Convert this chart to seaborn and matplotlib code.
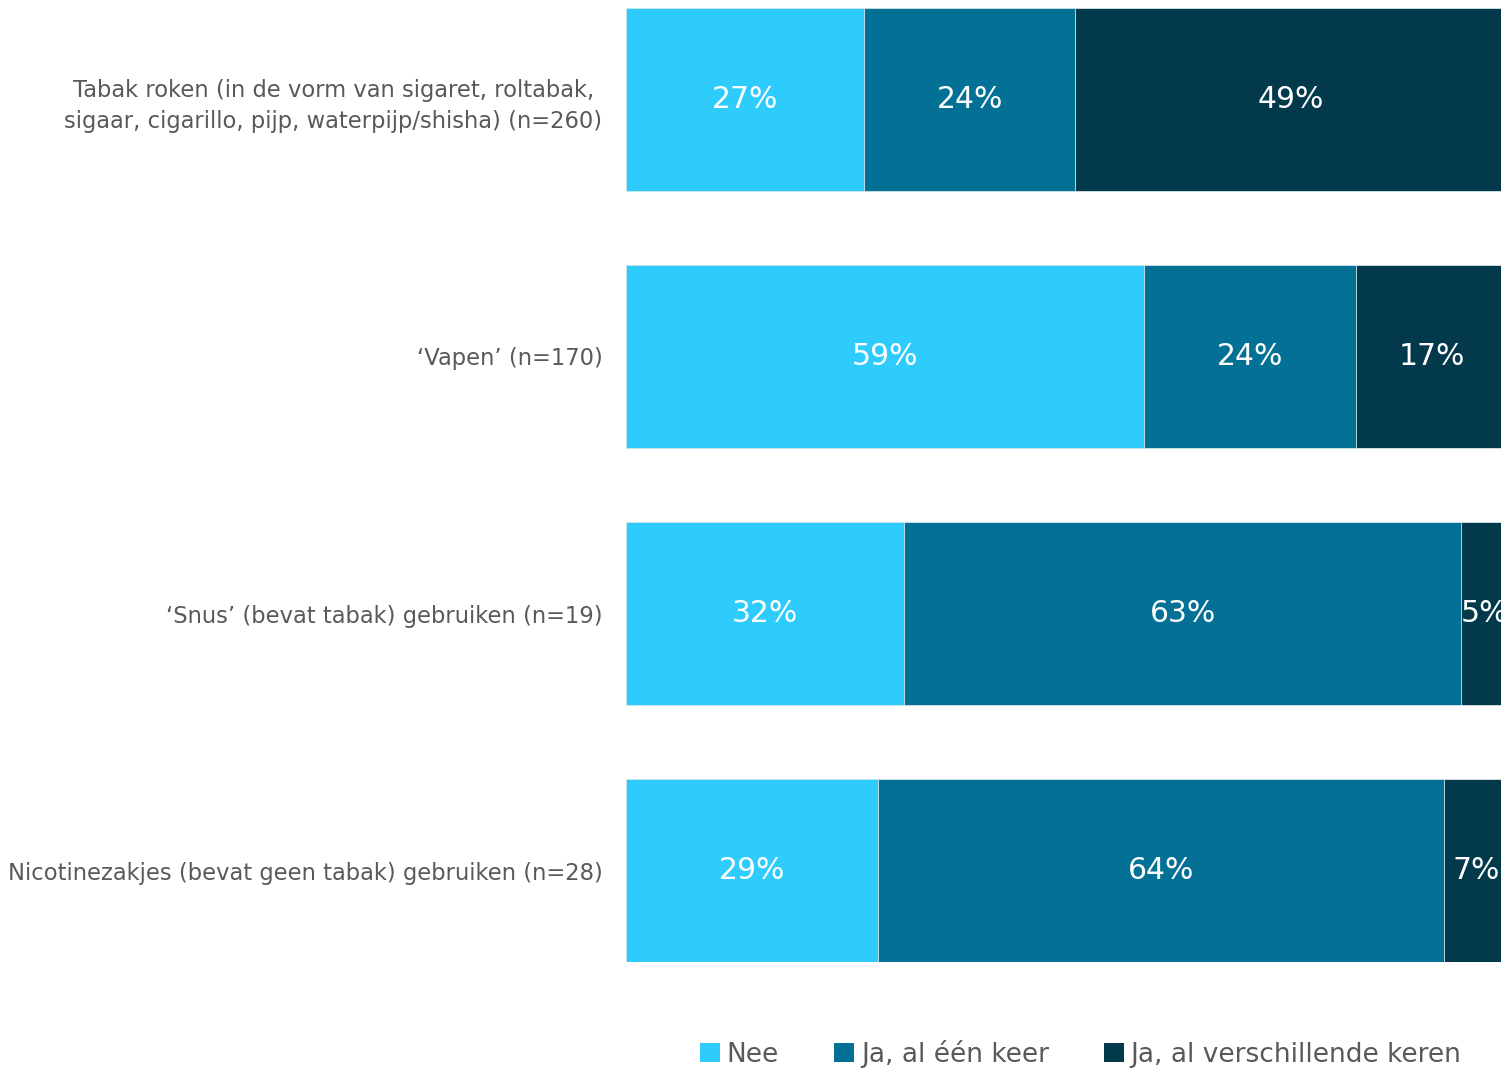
import numpy as np
import pandas as pd
import matplotlib
matplotlib.use('Agg')
import matplotlib.pyplot as plt
from matplotlib.patches import Patch
import seaborn as sns

# data (shares in %)
categories = [
    'Tabak roken (in de vorm van sigaret, roltabak,\nsigaar, cigarillo, pijp, waterpijp/shisha) (n=260)',
    '‘Vapen’ (n=170)',
    '‘Snus’ (bevat tabak) gebruiken (n=19)',
    'Nicotinezakjes (bevat geen tabak) gebruiken (n=28)',
]
nee = [27.0, 58.8, 31.6, 28.6]
ja_een = [24.0, 24.1, 63.2, 64.3]
ja_meer = [49.0, 17.1, 5.3, 7.1]
series_names = ['Nee', 'Ja, al één keer', 'Ja, al verschillende keren']
colors = ['#2ECCFD', '#037196', '#02394B']

df = pd.DataFrame({'cat': categories, 'nee': nee, 'ja_een': ja_een, 'ja_meer': ja_meer})
df['c1'] = df['nee']
df['c2'] = df['nee'] + df['ja_een']
df['c3'] = df['c2'] + df['ja_meer']

sns.set_theme(style='white')
plt.rcParams['font.family'] = ['DejaVu Sans']

fig = plt.figure(figsize=(15.01, 10.68), dpi=100)
# axes runs slightly past the right edge, like the cropped original
ax = fig.add_axes([626 / 1501, 1 - 962 / 1068, 881 / 1501, 954 / 1068])

bar_h = 0.712
for col, c in zip(['c3', 'c2', 'c1'], colors[::-1]):
    sns.barplot(data=df, x=col, y='cat', orient='h', color=c, width=bar_h,
                edgecolor='#d9e6ea', linewidth=0.6, saturation=1, ax=ax)

# percentage labels
for i, row in df.iterrows():
    starts = [0, row['c1'], row['c2']]
    for s, v in zip(starts, [row['nee'], row['ja_een'], row['ja_meer']]):
        ax.text(s + v / 2, i, f'{v:.0f}%', ha='center', va='center',
                color='white', fontsize=21.5)

ax.set_xlim(0, 100)
ax.set_ylim(len(categories) - 1 + bar_h / 2, -bar_h / 2)
ax.set_xlabel('')
ax.set_ylabel('')
ax.set_xticks([])
sns.despine(ax=ax, left=True, bottom=True)
ax.tick_params(axis='y', length=0, pad=17, labelsize=16.3, labelcolor='#595959')
for lbl in ax.get_yticklabels():
    lbl.set_multialignment('center')
    lbl.set_linespacing(1.45)

handles = [Patch(facecolor=c, edgecolor='none') for c in colors]
fig.legend(handles, series_names, loc='center', bbox_to_anchor=(1081 / 1501, 1 - 1054 / 1068),
           ncol=3, frameon=False, handlelength=0.75, handleheight=0.75, handletextpad=0.25,
           columnspacing=2.1, prop={'size': 19}, labelcolor='#595959')

plt.savefig('out.png', dpi=100)
plt.close()
